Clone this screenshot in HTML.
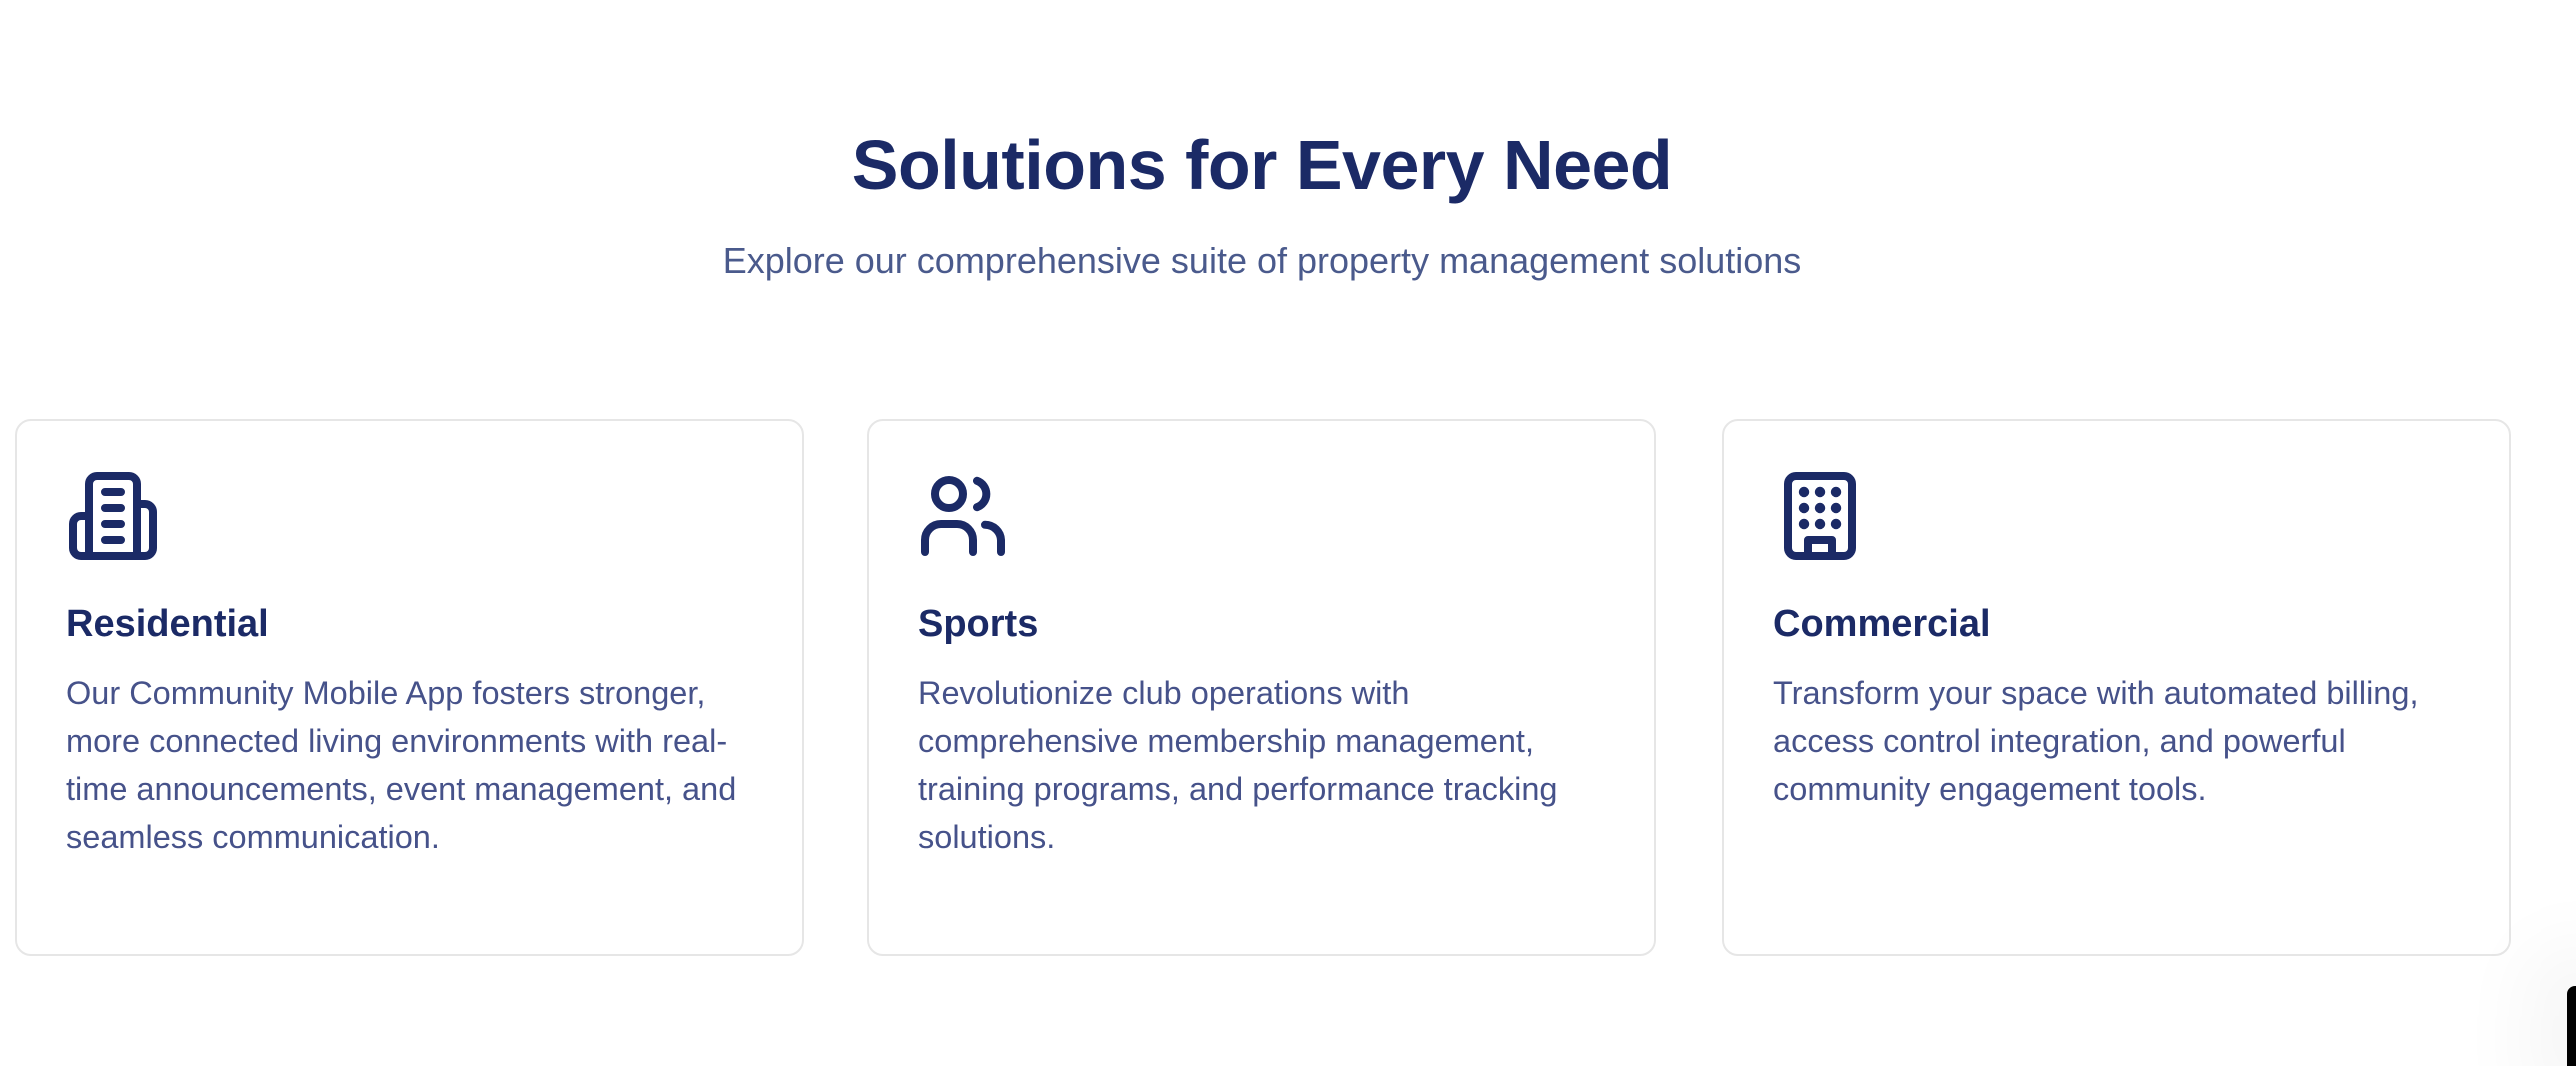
<!DOCTYPE html>
<html><head><meta charset="utf-8">
<style>
html,body{margin:0;padding:0;background:#fff;width:2576px;height:1066px;overflow:hidden;position:relative;font-family:"Liberation Sans",sans-serif;}
.title{position:absolute;left:0;width:2524px;top:120px;text-align:center;font-size:70px;font-weight:bold;color:#1b2a66;letter-spacing:-0.5px;line-height:90px;margin:0}
.sub{position:absolute;left:0;width:2524px;top:240px;text-align:center;font-size:36px;color:#4a5a8c;line-height:42px;margin:0}
.card{position:absolute;top:419px;height:537px;width:789px;border:2px solid #e6e6e6;border-radius:16px;box-sizing:border-box;background:#fff}
.card svg{position:absolute;left:48px;top:47px}
.card h3{position:absolute;left:49px;top:178px;margin:0;font-size:38px;font-weight:bold;color:#1b2a66;line-height:50px}
.card p{position:absolute;left:49px;top:248px;margin:0;font-size:32.5px;color:#46528a;line-height:48px;white-space:nowrap}
.blk{position:absolute;left:2567px;top:986px;width:20px;height:90px;background:#000;border-radius:8px 0 0 0;box-shadow:0 0 80px 40px rgba(0,0,0,0.04)}
</style></head><body>
<h1 class="title">Solutions for Every Need</h1>
<p class="sub">Explore our comprehensive suite of property management solutions</p>

<div class="card" style="left:15px">
<svg width="96" height="96" viewBox="0 0 24 24" fill="none" stroke="#1b2a66" stroke-width="2" stroke-linecap="round" stroke-linejoin="round"><path d="M6 22V4a2 2 0 0 1 2-2h8a2 2 0 0 1 2 2v18Z"/><path d="M6 12H4a2 2 0 0 0-2 2v6a2 2 0 0 0 2 2h2"/><path d="M18 9h2a2 2 0 0 1 2 2v9a2 2 0 0 1-2 2h-2"/><path d="M10 6h4M10 10h4M10 14h4M10 18h4"/></svg>
<h3>Residential</h3>
<p>Our Community Mobile App fosters stronger,<br>more connected living environments with real-<br>time announcements, event management, and<br>seamless communication.</p>
</div>

<div class="card" style="left:867px">
<svg width="96" height="96" viewBox="0 0 24 24" fill="none" stroke="#1b2a66" stroke-width="2" stroke-linecap="round" stroke-linejoin="round"><circle cx="8" cy="6.5" r="3.5"/><path d="M2 21v-3a4 4 0 0 1 4-4h4a4 4 0 0 1 4 4v3"/><path d="M15 3.2a3.5 3.5 0 0 1 0 6.6"/><path d="M17 14.2a4 4 0 0 1 4 3.8v3"/></svg>
<h3>Sports</h3>
<p>Revolutionize club operations with<br>comprehensive membership management,<br>training programs, and performance tracking<br>solutions.</p>
</div>

<div class="card" style="left:1722px">
<svg width="96" height="96" viewBox="0 0 24 24" fill="none" stroke="#1b2a66" stroke-width="2" stroke-linecap="round" stroke-linejoin="round"><rect x="4" y="2" width="16" height="20" rx="2"/><path d="M9 22v-4h6v4"/><path d="M8 6h.01M12 6h.01M16 6h.01M8 10h.01M12 10h.01M16 10h.01M8 14h.01M12 14h.01M16 14h.01" stroke-width="2.6"/></svg>
<h3>Commercial</h3>
<p>Transform your space with automated billing,<br>access control integration, and powerful<br>community engagement tools.</p>
</div>

<div class="blk"></div>
</body></html>
